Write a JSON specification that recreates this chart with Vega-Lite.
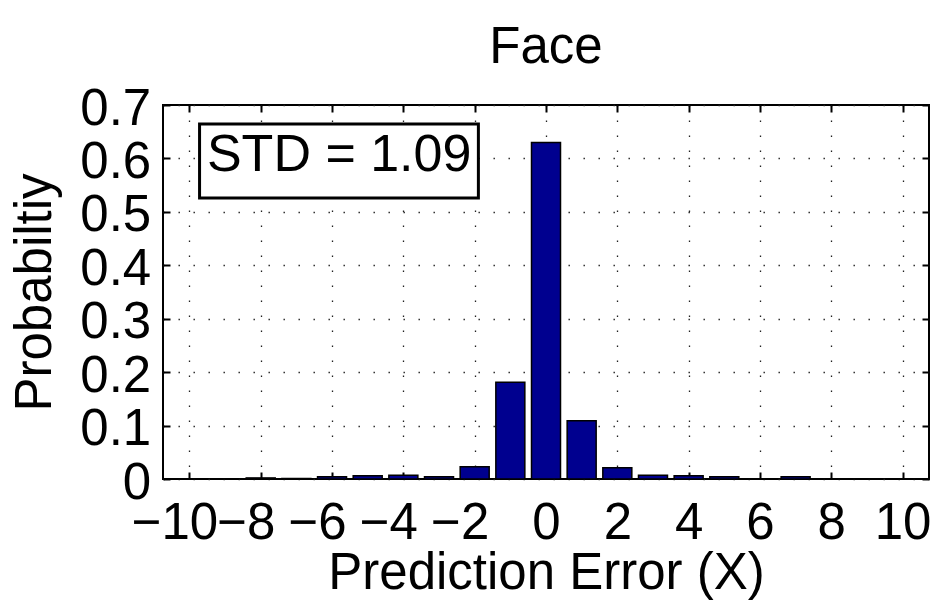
{
  "$schema": "https://vega.github.io/schema/vega-lite/v6.json",
  "width": 766,
  "height": 374,
  "autosize": {"type": "none"},
  "padding": {"left": 163, "top": 105, "right": 23, "bottom": 130},
  "background": "white",
  "title": {"text": "Face", "fontSize": 51, "fontWeight": "normal", "font": "Liberation Sans", "color": "black", "baseline": "bottom", "offset": -41.5, "anchor": "middle"},
  "config": {
    "font": "Liberation Sans",
    "view": {"stroke": "black", "strokeWidth": 2}
  },
  "data": {
    "values": [
      {"error": -10, "probability": 0},
      {"error": -9, "probability": 0},
      {"error": -8, "probability": 0.002},
      {"error": -7, "probability": 0.001},
      {"error": -6, "probability": 0.004},
      {"error": -5, "probability": 0.006},
      {"error": -4, "probability": 0.007},
      {"error": -3, "probability": 0.004},
      {"error": -2, "probability": 0.023},
      {"error": -1, "probability": 0.181},
      {"error": 0, "probability": 0.63},
      {"error": 1, "probability": 0.109},
      {"error": 2, "probability": 0.021},
      {"error": 3, "probability": 0.007},
      {"error": 4, "probability": 0.006},
      {"error": 5, "probability": 0.004},
      {"error": 6, "probability": 0},
      {"error": 7, "probability": 0.004},
      {"error": 8, "probability": 0},
      {"error": 9, "probability": 0},
      {"error": 10, "probability": 0}
    ]
  },
  "resolve": {"axis": {"x": "independent", "y": "independent"}},
  "layer": [
    {
      "mark": {"type": "bar", "orient": "vertical", "size": 29, "color": "#00008F", "stroke": "black", "strokeWidth": 1.5},
      "encoding": {
        "x": {
          "field": "error", "type": "quantitative",
          "scale": {"domain": [-10.6, 10.6], "nice": false, "zero": false},
          "axis": {
            "orient": "bottom",
            "values": [-10, -8, -6, -4, -2, 0, 2, 4, 6, 8, 10],
            "format": "d",
            "grid": true, "gridColor": "#222", "gridDash": [1.4, 13.6], "gridWidth": 1.3,
            "domain": false,
            "ticks": true, "tickSize": -7, "tickWidth": 2, "tickColor": "black",
            "labelFontSize": 51, "labelColor": "black", "labelBaseline": "alphabetic",
            "labelPadding": 66.5, "labelOverlap": false, "labelFlush": false, "labelBound": false,
            "labelOffset": {"condition": {"test": "datum.value < 0", "value": -15}, "value": 0},
            "title": "Prediction Error (X)", "titleFontSize": 51, "titleFontWeight": "normal",
            "titleColor": "black", "titleBaseline": "alphabetic", "titleY": 109
          }
        },
        "y": {
          "field": "probability", "type": "quantitative",
          "scale": {"domain": [0, 0.7], "nice": false},
          "axis": {
            "orient": "left",
            "values": [0, 0.1, 0.2, 0.3, 0.4, 0.5, 0.6, 0.7],
            "format": ".1~f",
            "grid": true, "gridColor": "#222", "gridDash": [1.4, 13.6], "gridWidth": 1.3,
            "domain": false,
            "ticks": true, "tickSize": -7, "tickWidth": 2, "tickColor": "black",
            "labelFontSize": 51, "labelColor": "black", "labelBaseline": "alphabetic",
            "labelPadding": 19.3, "labelOffset": 19, "labelOverlap": false, "labelFlush": false, "labelBound": false,
            "title": "Probabiltiy", "titleFontSize": 51, "titleFontWeight": "normal",
            "titleColor": "black", "titleBaseline": "alphabetic", "titleX": -113
          }
        }
      }
    },
    {
      "mark": {"type": "bar", "orient": "vertical", "size": 29, "opacity": 0},
      "encoding": {
        "x": {
          "field": "error", "type": "quantitative",
          "scale": {"domain": [-10.6, 10.6], "nice": false, "zero": false},
          "axis": {
            "orient": "top",
            "values": [-10, -8, -6, -4, -2, 0, 2, 4, 6, 8, 10],
            "labels": false, "grid": false, "domain": false,
            "ticks": true, "tickSize": -7, "tickWidth": 2, "tickColor": "black",
            "title": null
          }
        },
        "y": {
          "field": "probability", "type": "quantitative",
          "scale": {"domain": [0, 0.7], "nice": false},
          "axis": {
            "orient": "right",
            "values": [0, 0.1, 0.2, 0.3, 0.4, 0.5, 0.6, 0.7],
            "labels": false, "grid": false, "domain": false,
            "ticks": true, "tickSize": -7, "tickWidth": 2, "tickColor": "black",
            "title": null
          }
        }
      }
    },
    {
      "data": {"values": [{"label": "STD = 1.09"}]},
      "mark": {"type": "rect", "fill": "white", "stroke": "black", "strokeWidth": 3},
      "encoding": {
        "x": {"datum": -9.715, "type": "quantitative", "scale": {"domain": [-10.6, 10.6], "nice": false, "zero": false}, "axis": null},
        "x2": {"datum": -1.896},
        "y": {"datum": 0.6644, "type": "quantitative", "scale": {"domain": [0, 0.7], "nice": false}, "axis": null},
        "y2": {"datum": 0.5259}
      }
    },
    {
      "data": {"values": [{"label": "STD = 1.09"}]},
      "mark": {"type": "text", "fontSize": 52, "font": "Liberation Sans", "fill": "black", "align": "center", "baseline": "alphabetic"},
      "encoding": {
        "x": {"datum": -5.8, "type": "quantitative", "scale": {"domain": [-10.6, 10.6], "nice": false, "zero": false}, "axis": null},
        "y": {"datum": 0.577, "type": "quantitative", "scale": {"domain": [0, 0.7], "nice": false}, "axis": null},
        "text": {"field": "label"}
      }
    }
  ]
}
